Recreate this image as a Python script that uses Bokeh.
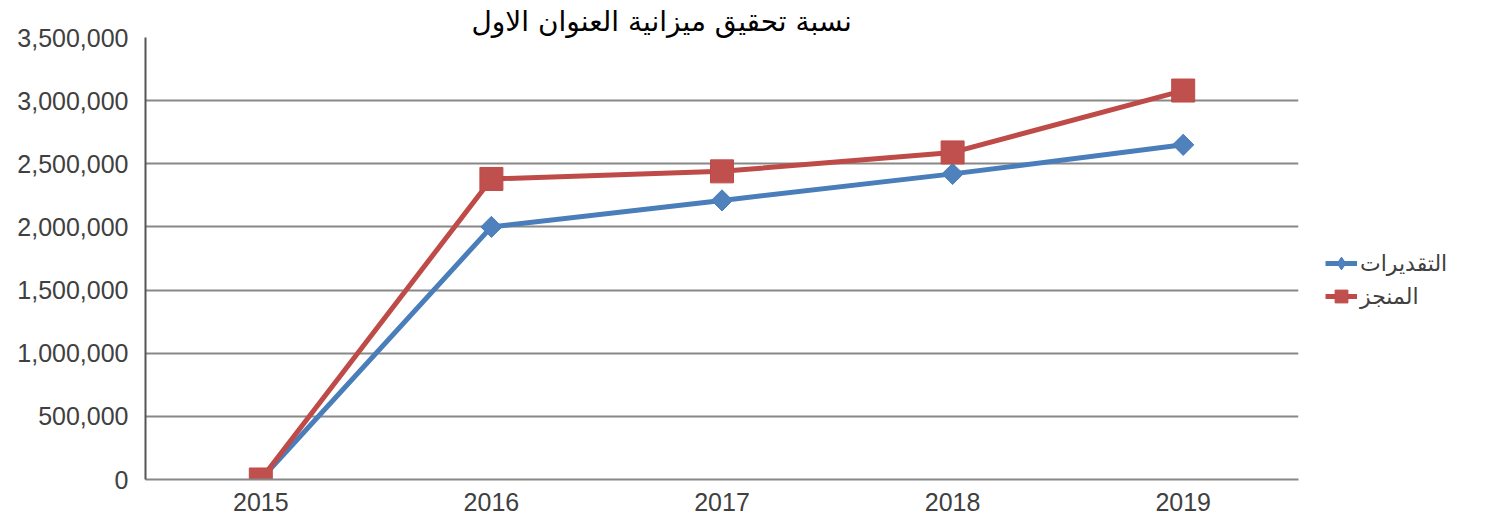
from bokeh.plotting import figure
from bokeh.models import FactorRange, Range1d, Legend, LegendItem, NumeralTickFormatter, FixedTicker
from bokeh.embed import file_html
from bokeh.resources import INLINE

years = ["2015", "2016", "2017", "2018", "2019"]
estimates = [0, 2000000, 2210000, 2420000, 2650000]
achieved = [0, 2380000, 2440000, 2590000, 3080000]
y_ticks = [0, 500000, 1000000, 1500000, 2000000, 2500000, 3000000, 3500000]
title_text = "نسبة تحقيق ميزانية العنوان الاول"
series_names = ["التقديرات", "المنجز"]

BLUE_LINE = "#4a7ebb"
BLUE_FILL = "#4f81bd"
RED_LINE = "#be4b48"
RED_FILL = "#c0504d"

p = figure(frame_width=1153, frame_height=442,
           x_range=FactorRange(factors=years, range_padding=0),
           y_range=Range1d(0, 3500000),
           output_backend="svg", toolbar_location=None,
           min_border_left=145, min_border_right=192,
           min_border_top=37, min_border_bottom=43)

p.title.text = title_text
p.title.align = "left"
p.title.offset = 326
p.title.text_font = "DejaVu Sans"
p.title.text_font_size = "28px"
p.title.text_font_style = "normal"
p.title.text_color = "black"
p.title.standoff = 0

p.outline_line_color = None
p.background_fill_color = "white"
p.border_fill_color = "white"
p.xgrid.visible = False
p.ygrid.grid_line_color = "#888888"
p.ygrid.grid_line_width = 2

p.yaxis.ticker = FixedTicker(ticks=y_ticks)
p.yaxis.formatter = NumeralTickFormatter(format="0,0")
for ax in (p.xaxis[0], p.yaxis[0]):
    ax.major_tick_line_color = None
    ax.minor_tick_line_color = None
    ax.major_tick_in = 0
    ax.major_tick_out = 0
    ax.minor_tick_in = 0
    ax.minor_tick_out = 0
    ax.major_label_text_font = "Liberation Sans"
    ax.major_label_text_font_size = "25px"
    ax.major_label_text_color = "#404040"
p.yaxis.axis_line_color = "#555555"
p.yaxis.axis_line_width = 2
p.yaxis.major_label_standoff = 17
p.xaxis.axis_line_color = "#888888"
p.xaxis.axis_line_width = 2
p.xaxis.major_label_standoff = 13

lb = p.line(years, estimates, line_width=5, line_color=BLUE_LINE)
sb = p.scatter(years, estimates, marker="square", angle=0.785398, size=15,
               fill_color=BLUE_FILL, line_color=BLUE_LINE, line_width=1)
# diamond used for the legend swatch (first point, hidden under the red 2015 marker)
sb_leg = p.scatter(x=years[:1], y=estimates[:1], marker="diamond", size=15,
                   fill_color=BLUE_FILL, line_color=BLUE_LINE, line_width=1)
lr = p.line(years, achieved, line_width=5, line_color=RED_LINE)
sr = p.scatter(years, achieved, marker="square", size=23,
               fill_color=RED_FILL, line_color=RED_LINE, line_width=1)

legend = Legend(items=[LegendItem(label=series_names[0], renderers=[lb, sb_leg]),
                       LegendItem(label=series_names[1], renderers=[lr, sr])],
                location=(27, 167), padding=0, margin=0,
                border_line_color=None, background_fill_alpha=0,
                glyph_width=32, glyph_height=32, label_height=20,
                spacing=1, label_standoff=3,
                label_text_font="DejaVu Sans", label_text_font_size="22px",
                label_text_color="#404040")
p.add_layout(legend, "right")

open("out.html", "w").write(file_html(p, INLINE))
